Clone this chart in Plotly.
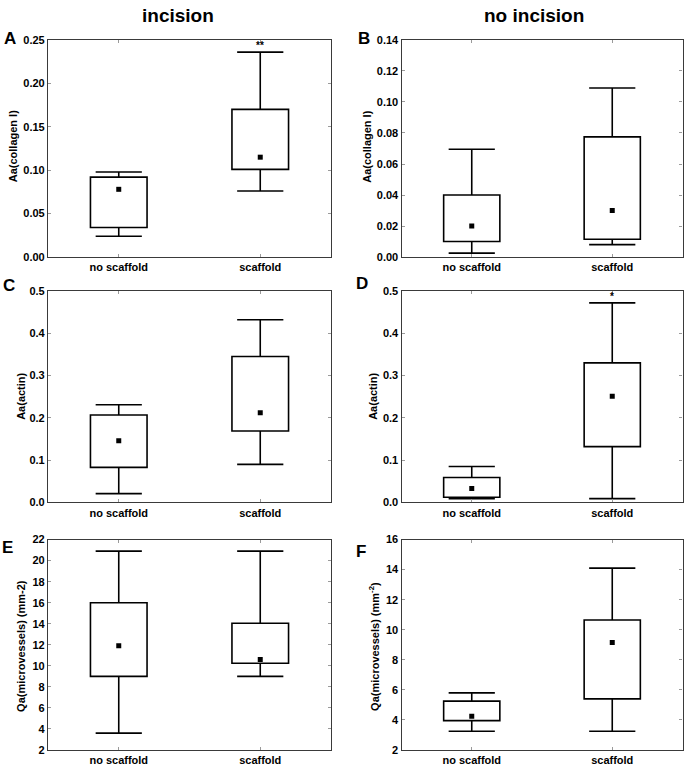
import plotly.graph_objects as go

W, H = 685, 773

categories = ["no scaffold", "scaffold"]

# Panel A  (incision, collagen I)
a_low = [0.024, 0.076]
a_q1 = [0.034, 0.101]
a_med = [0.078, 0.115]
a_q3 = [0.092, 0.170]
a_high = [0.098, 0.236]

# Panel B  (no incision, collagen I)
b_low = [0.0025, 0.008]
b_q1 = [0.010, 0.0115]
b_med = [0.020, 0.030]
b_q3 = [0.040, 0.0775]
b_high = [0.0695, 0.109]

# Panel C  (incision, actin)
c_low = [0.021, 0.090]
c_q1 = [0.083, 0.169]
c_med = [0.146, 0.212]
c_q3 = [0.207, 0.345]
c_high = [0.231, 0.432]

# Panel D  (no incision, actin)
d_low = [0.009, 0.009]
d_q1 = [0.0125, 0.132]
d_med = [0.033, 0.251]
d_q3 = [0.059, 0.330]
d_high = [0.085, 0.472]

# Panel E  (incision, microvessels)
e_low = [3.6, 9.0]
e_q1 = [9.0, 10.25]
e_med = [11.9, 10.6]
e_q3 = [16.0, 14.05]
e_high = [20.9, 20.9]

# Panel F  (no incision, microvessels)
f_low = [3.25, 3.25]
f_q1 = [3.95, 5.4]
f_med = [4.25, 9.15]
f_q3 = [5.25, 10.65]
f_high = [5.8, 14.1]

column_titles = ["incision", "no incision"]
panel_letters = ["A", "B", "C", "D", "E", "F"]
y_titles = ["Aa(collagen I)", "Aa(collagen I)", "Aa(actin)", "Aa(actin)",
            "Qa(microvessels) (mm-2)", "Qa(microvessels) (mm<sup>-2</sup>)"]
y_ranges = [[0, 0.25], [0, 0.14], [0, 0.5], [0, 0.5], [2, 22], [2, 16]]
y_dticks = [0.05, 0.02, 0.1, 0.1, 2, 2]
y_formats = [".2f", ".2f", ".1f", ".1f", "d", "d"]
stars = {0: ("**", 0.2432), 3: ("*", 0.488)}

panels = [
    (a_low, a_q1, a_med, a_q3, a_high),
    (b_low, b_q1, b_med, b_q3, b_high),
    (c_low, c_q1, c_med, c_q3, c_high),
    (d_low, d_q1, d_med, d_q3, d_high),
    (e_low, e_q1, e_med, e_q3, e_high),
    (f_low, f_q1, f_med, f_q3, f_high),
]

# plot-area positions in pixels (left, right, top, bottom)
col_x = [(48, 331), (401.5, 682.5)]
row_y = [(34.5, 255), (289.5, 504.3), (542, 755.7)]
ytitle_px = [(12.5, 143), (367, 143), (21, 397), (373, 397), (21, 650), (374, 650)]
letter_px = [(9.5, 33.5), (364, 33), (8.5, 284), (361.5, 281.5), (7.5, 550.5), (361, 554)]
coltitle_px = [(178, 10), (533.5, 10)]

FONT = "Liberation Sans, Arial, sans-serif"
LW = 1.6

fig = go.Figure()
layout = dict(
    width=W, height=H, margin=dict(l=0, r=0, t=0, b=0),
    paper_bgcolor="white", plot_bgcolor="white", showlegend=False,
    font=dict(family=FONT, color="black", size=11),
)
annotations = []

for i, (low, q1, med, q3, high) in enumerate(panels):
    r, c = divmod(i, 2)
    n = i + 1
    xa = "x" if n == 1 else f"x{n}"
    ya = "y" if n == 1 else f"y{n}"

    # whisker stems (q3 -> max, q1 -> min)
    wx, wy = [], []
    for k, cat in enumerate(categories):
        wx += [cat, cat, None, cat, cat, None]
        wy += [q3[k], high[k], None, q1[k], low[k], None]
    fig.add_trace(go.Scatter(
        x=wx, y=wy, mode="lines", line=dict(color="black", width=LW),
        xaxis=xa, yaxis=ya, hoverinfo="skip",
    ))
    # whisker caps
    fig.add_trace(go.Scatter(
        x=categories + categories, y=list(low) + list(high), mode="markers",
        marker=dict(symbol="line-ew", size=33,
                    line=dict(color="black", width=LW)),
        xaxis=xa, yaxis=ya, hoverinfo="skip",
    ))
    # boxes (25%-75%)
    fig.add_trace(go.Bar(
        x=categories, y=[q3[k] - q1[k] for k in range(2)], base=q1,
        width=0.4, marker=dict(color="white", line=dict(color="black", width=LW)),
        xaxis=xa, yaxis=ya, hoverinfo="skip",
    ))
    # median points
    fig.add_trace(go.Scatter(
        x=categories, y=med, mode="markers",
        marker=dict(symbol="square", size=5, color="black"),
        xaxis=xa, yaxis=ya, hoverinfo="skip",
    ))

    x0, x1 = col_x[c]
    y0, y1 = row_y[r]
    axis_common = dict(
        showline=True, linecolor="#3a3a3a", linewidth=1.2, mirror="ticks",
        ticks="inside", ticklen=3, tickcolor="#9a9a9a", tickwidth=1,
        showgrid=False, zeroline=False,
        tickfont=dict(family=FONT, size=11, color="black", weight="bold"),
    )
    layout["xaxis" if n == 1 else f"xaxis{n}"] = dict(
        domain=[x0 / W, x1 / W], anchor=ya, type="category",
        range=[-0.5, 1.5], **axis_common,
    )
    layout["yaxis" if n == 1 else f"yaxis{n}"] = dict(
        domain=[1 - y1 / H, 1 - y0 / H], anchor=xa,
        range=y_ranges[i], dtick=y_dticks[i], tick0=0,
        tickformat=y_formats[i], **axis_common,
    )
    tx, ty = ytitle_px[i]
    annotations.append(dict(
        text=y_titles[i], x=tx / W, y=1 - ty / H, xref="paper", yref="paper",
        textangle=-90, showarrow=False, xanchor="center", yanchor="middle",
        font=dict(family=FONT, size=11, color="black", weight="bold"),
    ))
    lx, ly = letter_px[i]
    annotations.append(dict(
        text=panel_letters[i], x=lx / W, y=1 - ly / H, xref="paper", yref="paper",
        showarrow=False, xanchor="center", yanchor="middle",
        font=dict(family=FONT, size=17, color="black", weight="bold"),
    ))
    if i in stars:
        s, sy = stars[i]
        annotations.append(dict(
            text=s, x=categories[1], y=sy, xref=xa, yref=ya,
            showarrow=False, xanchor="center", yanchor="middle",
            font=dict(family=FONT, size=10, color="black", weight="bold"),
        ))

for (cx, cy), t in zip(coltitle_px, column_titles):
    annotations.append(dict(
        text=t, x=cx / W, y=1 - cy / H, xref="paper", yref="paper",
        showarrow=False, xanchor="center", yanchor="middle",
        font=dict(family=FONT, size=19, color="black", weight="bold"),
    ))

layout["annotations"] = annotations
layout["barmode"] = "overlay"
fig.update_layout(**layout)
fig.write_html("out.html")
